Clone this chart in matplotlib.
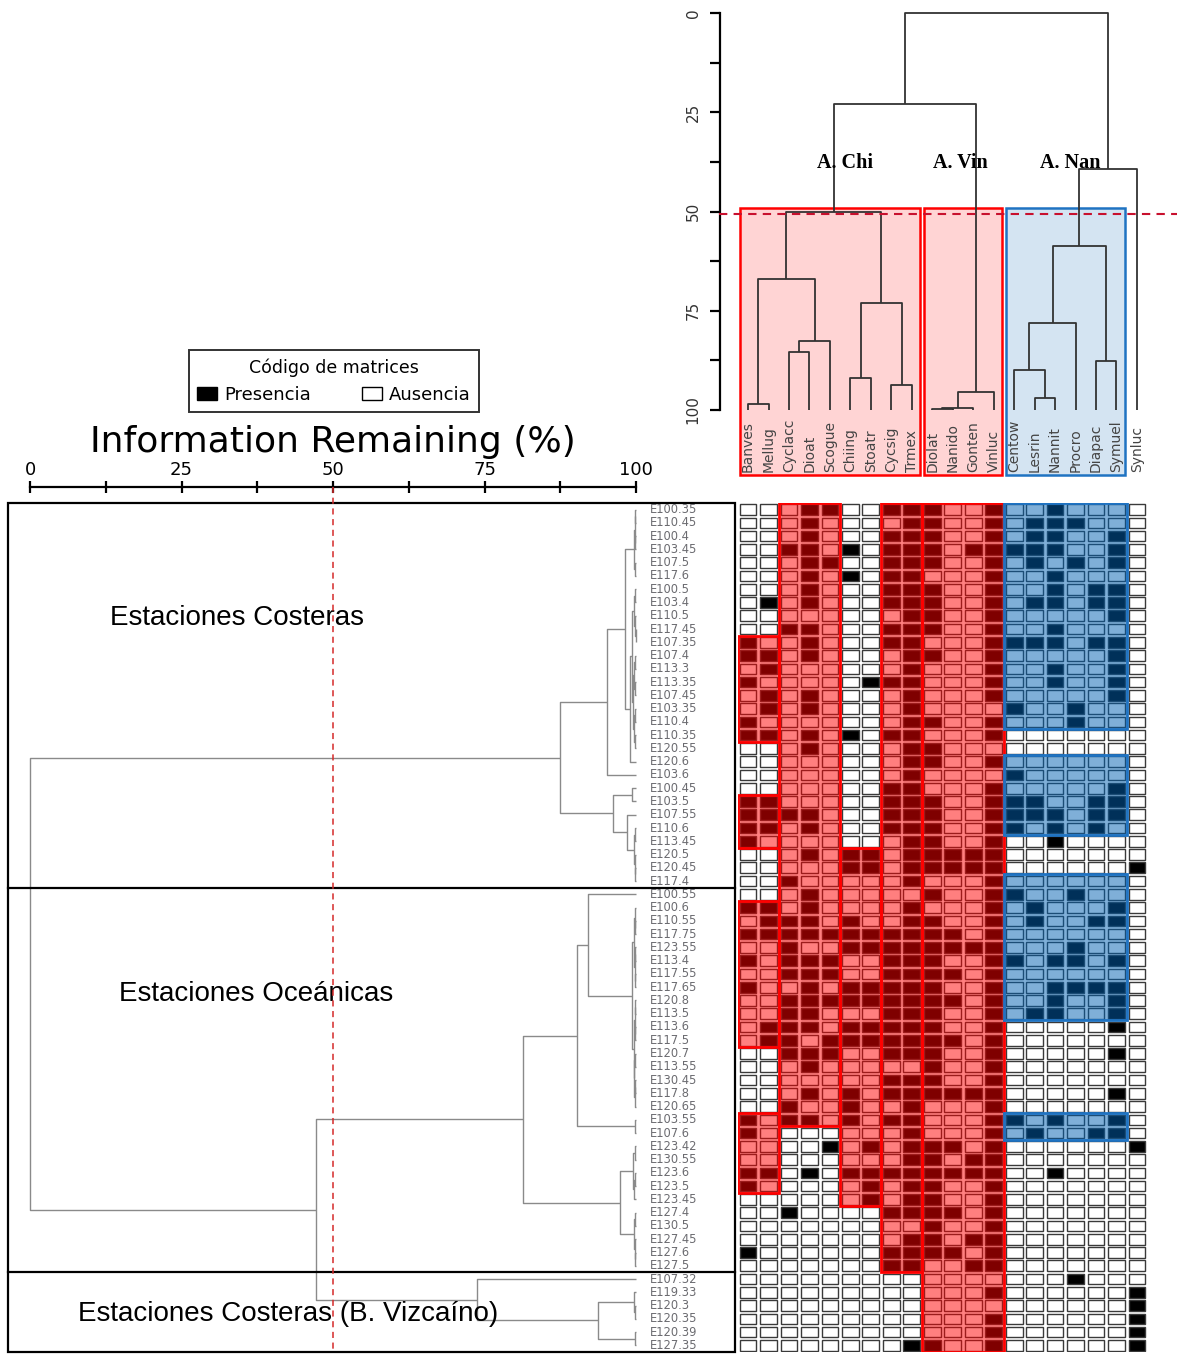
import matplotlib
matplotlib.use("Agg")
import matplotlib.pyplot as plt
from matplotlib.patches import Rectangle, Patch
import numpy as np

plt.rcParams['font.family'] = ['DejaVu Sans']

W, H = 1177, 1355

# ---------------- data ----------------
species = ["Banves", "Mellug", "Cyclacc", "Dioat", "Scogue", "Chiing", "Stoatr", "Cycsig", "Trmex",
           "Diolat", "Nanido", "Gonten", "Vinluc", "Centow", "Lesrin", "Nannit", "Procro", "Diapac",
           "Symuel", "Synluc"]

stations = ["E100.35", "E110.45", "E100.4", "E103.45", "E107.5", "E117.6", "E100.5", "E103.4", "E110.5", "E117.45",
            "E107.35", "E107.4", "E113.3", "E113.35", "E107.45", "E103.35", "E110.4", "E110.35", "E120.55", "E120.6",
            "E103.6", "E100.45", "E103.5", "E107.55", "E110.6", "E113.45", "E120.5", "E120.45", "E117.4",
            "E100.55", "E100.6", "E110.55", "E117.75", "E123.55", "E113.4", "E117.55", "E117.65", "E120.8", "E113.5",
            "E113.6", "E117.5", "E120.7", "E113.55", "E130.45", "E117.8", "E120.65", "E103.55", "E107.6", "E123.42",
            "E130.55", "E123.6", "E123.5", "E123.45", "E127.4", "E130.5", "E127.45", "E127.6", "E127.5",
            "E107.32", "E119.33", "E120.3", "E120.35", "E120.39", "E127.35"]

# presence (1) / absence (0) matrix, one string per station, one char per species
presence = [
    "00011001110010010000", "00010000110010111000", "00010001110010110010", "00110101110111110010",
    "00011001110010101010", "00010101100010010000", "00010001110010010110", "01010001110010110110",
    "00000000110010000010", "00110001110010010000", "10010001100011110110", "11010000110010000010",
    "01000000100010010010", "10000011100010010010", "01010000100010000010", "01010000100001001000",
    "10000000110010001000", "11010101100010000000", "00010000110000000000", "00000000110010000000",
    "00000000100001000000", "00000001100010000010", "11000001110011100110", "11110001110011110110",
    "11010001110011010100", "10000000110010010000", "00010110111110000000", "00000110111110000001",
    "00100000100010000000",
    "00010000010011001000", "11010000100010100010", "01110100110010100110", "11111111111010000000",
    "00100111111110001000", "10111001110011011010", "00111001111010000000", "10010111110010011110",
    "00111111111010010010", "00110001110010110010", "01110111110010000010", "01101111111010000000",
    "00111001110010000010", "00010000010010000000", "00000001110010000000", "00010101111110000010",
    "00100100100010000000", "10110101100011010010", "10000000100010100110", "00001010111010000001",
    "00000000110110000000", "11010111111110010000", "10000010110010000000", "00000010110010000000",
    "00100001111010000000", "00000000010010000000", "00000000110110000000", "10000001111010000000",
    "00000001100110000000",
    "00000000000000001000", "00000000000010000001", "00000000000000000001", "00000000000010000001",
    "00000000000010000001", "00000000110010000001",
]

# station groups: (label, first row, end row)
station_groups = [("Estaciones Costeras", 0, 29),
                  ("Estaciones Oceánicas", 29, 58),
                  ("Estaciones Costeras (B. Vizcaíno)", 58, 64)]

# station dendrogram (height = information remaining %, leaves = row index)
A1 = (99.6, (99.8, (99.9, 0, 1), (99.9, 2, 3)), (99.8, 4, 5))
B1 = (99.4, (99.7, (99.9, 6, 7), (99.85, 8, (99.95, 9, 10))),
      (99.5, (99.7, (99.9, 11, 12), (99.85, 13, 14)), (99.65, (99.9, 15, 16), (99.8, 17, 18))))
B = (99.0, B1, 19)
AB = (98.2, A1, B)
C = (95.2, AB, 20)
G = (99.6, (99.8, 24, 25), (99.8, 26, (99.9, 27, 28)))
E = (96.2, (99.3, 21, 22), (98.5, 23, G))
D = (87.5, C, E)
H1 = (99.7, (99.85, 30, (99.9, 31, 32)), (99.8, (99.9, 33, 34), (99.9, 35, 36)))
H2 = (99.6, (99.8, (99.9, 37, 38), (99.9, 39, 40)), (99.7, (99.85, 41, 42), (99.8, (99.9, 43, 44), 45)))
Hn = (99.3, H1, H2)
K = (92.0, 29, Hn)
L = (90.2, K, (99.8, 46, 47))
I1 = (99.5, (99.8, 48, 49), (99.7, (99.9, 50, 51), 52))
I2 = (99.7, (99.85, 53, 54), (99.8, 55, (99.9, 56, 57)))
I = (97.4, I1, I2)
M = (81.3, L, I)
J = (93.7, (99.7, 59, (99.85, 60, 61)), (99.8, 62, 63))
V = (73.8, 58, J)
N = (47.2, M, V)
station_tree = (0.0, D, N)

# species dendrogram (leaves = column index)
CHI = (50.2, (67.0, (98.5, 0, 1), (82.5, (85.4, 2, 3), 4)), (73.0, (92.0, 5, 6), (93.7, 7, 8)))
VIN = (95.5, (99.5, (99.8, 9, 10), 11), 12)
NAN = (58.7, (78.0, (90.0, 13, (97.0, 14, 15)), 16), (87.6, 17, 18))
species_tree = (0.0, (23.0, CHI, VIN), (39.3, NAN, 19))

cut_station = 50.0
cut_species = 50.6

# assemblages: (label, first col, last col, colour key, label x)
assemblages = [("A. Chi", 0, 8, "red", 4.74),
               ("A. Vin", 9, 12, "red", 10.36),
               ("A. Nan", 13, 18, "blue", 15.73)]

# highlighted matrix blocks: (first col, last col, first row, end row)
red_blocks = [(0, 1, 10, 18), (0, 1, 22, 26), (0, 1, 30, 41), (0, 1, 46, 52),
              (2, 4, 0, 47), (5, 6, 26, 53), (7, 8, 0, 58), (9, 12, 0, 64)]
blue_blocks = [(13, 18, 0, 17), (13, 18, 19, 25), (13, 18, 28, 39), (13, 18, 46, 48)]

RED = (1.0, 0.0, 0.0)
BLUE = (0.0, 0.38, 0.70)
BLUE_EDGE = (0.12, 0.45, 0.76)
colours = {"red": (RED, RED), "blue": (BLUE, BLUE_EDGE)}


def fig_rect(x0, y0, x1, y1):
    return [x0 / W, 1 - y1 / H, (x1 - x0) / W, (y1 - y0) / H]


def draw_tree(ax, node, pos_of, leaf_h, horizontal, **kw):
    if isinstance(node, int):
        return pos_of(node), leaf_h
    h, a, b = node
    pa, ha = draw_tree(ax, a, pos_of, leaf_h, horizontal, **kw)
    pb, hb = draw_tree(ax, b, pos_of, leaf_h, horizontal, **kw)
    if horizontal:
        ax.plot([ha, h, h, hb], [pa, pa, pb, pb], **kw)
    else:
        ax.plot([pa, pa, pb, pb], [ha, h, h, hb], **kw)
    return (pa + pb) / 2, h


fig = plt.figure(figsize=(W / 100, H / 100), dpi=100)

nrow, ncol = len(stations), len(species)

# ---------------- left station dendrogram ----------------
ax_d = fig.add_axes(fig_rect(30, 503, 636, 1352))
ax_d.set_xlim(0, 100)
ax_d.set_ylim(nrow, 0)
draw_tree(ax_d, station_tree, lambda i: i + 0.5, 100.0, True,
          color="#8a8a8a", lw=1.0, solid_capstyle="butt", clip_on=False)
for s in ["left", "right", "bottom"]:
    ax_d.spines[s].set_visible(False)
ax_d.spines["top"].set_position(("outward", 11.5))
ax_d.spines["top"].set_linewidth(1.6)
ax_d.xaxis.set_ticks_position("top")
ax_d.set_xticks([0, 25, 50, 75, 100])
ax_d.set_xticks(np.arange(0, 100.1, 12.5), minor=True)
ax_d.tick_params(axis="x", which="both", direction="inout", length=8, width=1.6, labelsize=13, pad=2)
ax_d.tick_params(axis="y", left=False, labelleft=False)
ax_d.xaxis.set_label_position("top")
ax_d.set_xlabel("Information Remaining (%)", fontsize=26, labelpad=6)

# panel frame and group separators
xl, xr = -3.63, 116.34
ax_d.add_patch(Rectangle((xl, 0), xr - xl, nrow, fill=False, ec="black", lw=1.6, clip_on=False))
group_label_pos = [(34.2, 8.7), (37.3, 37.0), (42.6, 61.1)]
for (lab, r0, r1), (gx, gy) in zip(station_groups, group_label_pos):
    if r0 > 0:
        ax_d.plot([xl, xr], [r0, r0], color="black", lw=1.6, clip_on=False)
    ax_d.text(gx, gy, lab, ha="center", va="center", fontsize=20,
              family=["Liberation Sans", "DejaVu Sans"], zorder=5)

# station labels
for i, st in enumerate(stations):
    ax_d.text(102.3, i + 0.5, st, ha="left", va="center", fontsize=8.3,
              color="#6b6b70", clip_on=False)

# cut line
ax_d.plot([cut_station, cut_station], [-1.2, nrow], ls=(0, (4, 3)), color="#d42a2a",
          lw=1.1, clip_on=False, zorder=6)

# ---------------- presence matrix ----------------
ax_m = fig.add_axes(fig_rect(737.8, 503, 1147.2, 1352))
ax_m.set_xlim(-0.5, ncol - 0.5)
ax_m.set_ylim(nrow, 0)
ax_m.axis("off")
for r, row in enumerate(presence):
    for c, v in enumerate(row):
        ax_m.add_patch(Rectangle((c - 0.41, r + 0.1), 0.82, 0.8,
                                 facecolor="black" if v == "1" else "white",
                                 edgecolor="#3a3a3a", lw=1.0, zorder=1))
for blocks, key in [(red_blocks, "red"), (blue_blocks, "blue")]:
    fc, ec = colours[key]
    for c0, c1, r0, r1 in blocks:
        ax_m.add_patch(Rectangle((c0 - 0.5, r0), c1 - c0 + 1, r1 - r0,
                                 facecolor=fc + (0.5,), edgecolor=ec + (1.0,), lw=2.0, zorder=3))

# ---------------- top species dendrogram ----------------
ax_t = fig.add_axes(fig_rect(737.8, 13, 1147.2, 410))
ax_t.set_xlim(-0.5, ncol - 0.5)
ax_t.set_ylim(100, 0)
for lab, c0, c1, key, lx in assemblages:
    fc, ec = colours[key]
    ax_t.add_patch(Rectangle((c0 - 0.4, 49.0), c1 - c0 + 0.8, 67.4,
                             facecolor=fc + (0.17,), edgecolor=ec + (1.0,), lw=1.8,
                             clip_on=False, zorder=1))
draw_tree(ax_t, species_tree, lambda i: i, 100.0, False,
          color="#333333", lw=1.3, solid_capstyle="butt", clip_on=False, zorder=3)
for lab, c0, c1, key, lx in assemblages:
    ax_t.text(lx, 37.8, lab, ha="center", va="center", fontsize=14.5, fontweight="bold",
              family=["Liberation Serif", "DejaVu Serif"], zorder=4)
for j, sp in enumerate(species):
    ax_t.text(j, 115.6, sp, rotation=90, ha="center", va="bottom", fontsize=10,
              color="#444444", clip_on=False, zorder=4)
ax_t.plot([-1.42, 20.96], [cut_species, cut_species], ls=(0, (4, 3)), color="#c8102e",
          lw=1.5, clip_on=False, zorder=5)
for s in ["top", "right", "bottom"]:
    ax_t.spines[s].set_visible(False)
ax_t.spines["left"].set_position(("outward", 12.8))
ax_t.spines["left"].set_linewidth(1.6)
ax_t.set_yticks([0, 25, 50, 75, 100])
ax_t.set_yticks(np.arange(0, 100.1, 12.5), minor=True)
ax_t.tick_params(axis="y", which="both", direction="out", length=7, width=1.6,
                 labelsize=11, pad=7, labelcolor="#333333")
for lbl in ax_t.get_yticklabels():
    lbl.set_rotation(90)
    lbl.set_va("center")
ax_t.tick_params(axis="x", bottom=False, labelbottom=False)

# ---------------- legend ----------------
handles = [Patch(facecolor="black", edgecolor="black"),
           Patch(facecolor="white", edgecolor="black")]
leg = fig.legend(handles, ["Presencia", "Ausencia"], title="Código de matrices", ncol=2,
                 loc="center", bbox_to_anchor=(334 / W, 1 - 381 / H), fontsize=13,
                 title_fontsize=12.5, frameon=True, fancybox=False, edgecolor="black",
                 handlelength=1.1, handleheight=0.7, handletextpad=0.4, columnspacing=2.8,
                 borderpad=0.45, borderaxespad=0)
leg.get_frame().set_linewidth(1.4)

fig.savefig("out.png", dpi=100)
